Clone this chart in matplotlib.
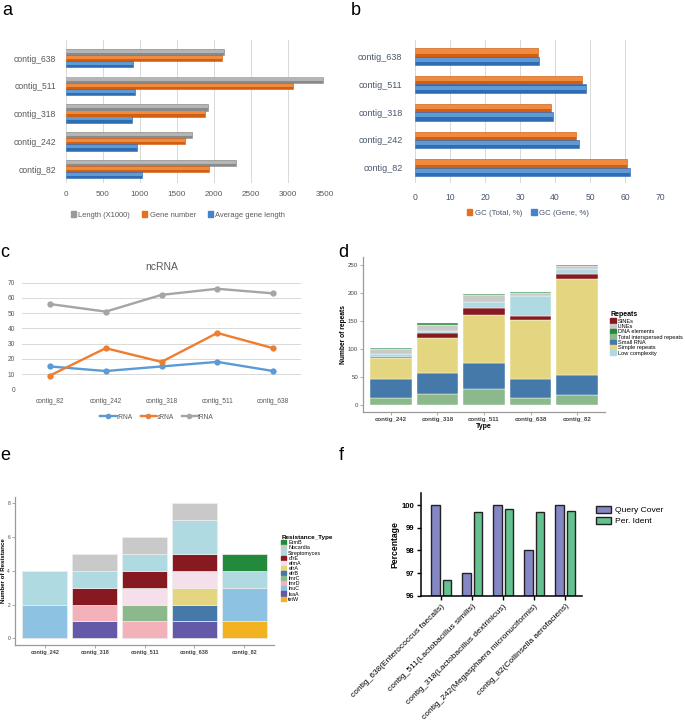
import numpy as np
import matplotlib.pyplot as plt
from matplotlib.patches import Patch
from matplotlib.lines import Line2D

plt.rcParams['font.family'] = ['Liberation Sans', 'DejaVu Sans']

# a / b : contig stats
contigs = ["contig_82", "contig_242", "contig_318", "contig_511", "contig_638"]
length_k = [2300, 1710, 1920, 3470, 2135]
gene_number = [1940, 1605, 1880, 3065, 2110]
avg_gene_len = [1030, 960, 900, 935, 905]
gc_total = [60.5, 46.0, 38.8, 47.7, 35.0]
gc_gene = [61.4, 46.8, 39.4, 48.9, 35.4]

# c : ncRNA
rrna = [15, 12, 15, 18, 12]
srna = [9, 27, 18, 37, 27]
trna = [56, 51, 62, 66, 63]

# d : repeats
rep_contigs = ["contig_242", "contig_318", "contig_511", "contig_638", "contig_82"]
rep_total_interspersed = [13, 20, 28, 13, 18]
rep_small_rna = [33, 37, 46, 34, 35]
rep_simple = [38, 63, 86, 105, 171]
rep_sines = [2, 8, 13, 6, 10]
rep_low_complexity = [5, 4, 10, 37, 9]
rep_lines = [8, 10, 13, 5, 4]
rep_dna = [3, 4, 2, 1, 3]

# e : resistance genes (rows follow res_types)
res_types = ["ErmB", "Nocardia", "Streptomyces", "dfrE", "efmA", "efrA",
             "efrB", "lmrC", "lmrD", "lnuC", "lsaA", "tetW"]
res_counts = [
    [0, 0, 0, 0, 1],
    [0, 1, 1, 1, 0],
    [2, 1, 1, 2, 1],
    [0, 1, 1, 1, 0],
    [0, 0, 1, 1, 0],
    [0, 0, 0, 1, 0],
    [0, 0, 0, 1, 0],
    [0, 0, 1, 0, 0],
    [0, 1, 1, 0, 0],
    [2, 0, 0, 0, 2],
    [0, 1, 0, 1, 0],
    [0, 0, 0, 0, 1],
]
res_colors = ["#238A3B", "#C9C9C9", "#B0DAE1", "#861A20", "#F4DFEA", "#E4D680",
              "#4479AA", "#8BB98B", "#F3B2BA", "#8EC2E3", "#6459A8", "#F2B222"]

# f : blast hits
f_labels = ["contig_638(Enterococcus faecalis)", "contig_511(Lactobacillus similis)",
            "contig_318(Lactobacillus dextrinicus)", "contig_242(Megasphaera micronuciformis)",
            "contig_82(Collinsella aerofaciens)"]
query_cover = [100, 97, 100, 98, 100]
per_ident = [96.68, 99.71, 99.82, 99.71, 99.76]

W, H = 685, 720
fig = plt.figure(figsize=(W / 100, H / 100), dpi=100)


def axes_px(x0, y0, x1, y1):
    return fig.add_axes([x0 / W, 1 - y1 / H, (x1 - x0) / W, (y1 - y0) / H])


def bar3d(ax, y, vals, h, dark, light):
    # excel-ish shaded bar: dark body + lighter upper half
    ax.barh(y, vals, height=h, color=dark, edgecolor=dark, lw=0.4, zorder=3)
    ax.barh(np.array(y) + h * 0.12, vals, height=h * 0.5, color=light, lw=0, zorder=4)


yy = np.arange(len(contigs))

# ---------- a ----------
ax = axes_px(65.7, 40, 325, 183)
h = 0.22
bar3d(ax, yy + 0.22, length_k, h, "#8A8A8A", "#B5B5B5")
bar3d(ax, yy, gene_number, h, "#D25F10", "#F08A3F")
bar3d(ax, yy - 0.22, avg_gene_len, h, "#2E6CB3", "#5D9AD6")
ax.set_xlim(0, 3500)
ax.set_ylim(-0.5, 4.65)
ax.set_xticks(range(0, 3501, 500))
ax.set_yticks(yy)
ax.set_yticklabels(contigs)
ax.grid(axis="x", color="#D9D9D9", lw=0.7, zorder=0)
for s in ax.spines.values():
    s.set_visible(False)
ax.tick_params(length=0, labelsize=6.2, labelcolor="#595959")
ax.tick_params(axis="y", pad=7)
ax.tick_params(axis="x", pad=6, labelsize=5.9)
fig.legend(handles=[Patch(color="#9A9A9A", label="Length (X1000)"),
                    Patch(color="#E46F1E", label="Gene number"),
                    Patch(color="#4583C8", label="Average gene length")],
           loc="center", bbox_to_anchor=(178 / W, 1 - 215 / H), ncol=3, frameon=False,
           fontsize=5.4, handlelength=0.7, handleheight=0.7, handletextpad=0.3,
           columnspacing=1.6, labelcolor="#595959")

# ---------- b ----------
ax = axes_px(415, 40, 660, 183)
h = 0.3
bar3d(ax, yy + 0.15, gc_total, h, "#D25F10", "#F08A3F")
bar3d(ax, yy - 0.15, gc_gene, h, "#2E6CB3", "#5D9AD6")
ax.set_xlim(0, 70)
ax.set_ylim(-0.55, 4.6)
ax.set_xticks(range(0, 71, 10))
ax.set_yticks(yy)
ax.set_yticklabels(contigs)
ax.grid(axis="x", color="#D9D9D9", lw=0.7, zorder=0)
for s in ax.spines.values():
    s.set_visible(False)
ax.tick_params(length=0, labelsize=6.5, labelcolor="#4A566E")
ax.tick_params(axis="y", pad=9)
ax.tick_params(axis="x", pad=7, labelsize=6.2)
fig.legend(handles=[Patch(color="#E46F1E", label="GC (Total, %)"),
                    Patch(color="#4583C8", label="GC (Gene, %)")],
           loc="center", bbox_to_anchor=(528 / W, 1 - 213 / H), ncol=2, frameon=False,
           fontsize=5.7, handlelength=0.7, handleheight=0.7, handletextpad=0.3,
           columnspacing=1.2, labelcolor="#4A566E")

# ---------- c ----------
ax = axes_px(22, 282.7, 301, 389.3)
x = np.arange(len(contigs))
ax.plot(x, rrna, color="#5B9BD5", lw=1.7, marker="o", ms=3.5, label="rRNA", zorder=3)
ax.plot(x, srna, color="#ED7D31", lw=1.7, marker="o", ms=3.5, label="sRNA", zorder=3)
ax.plot(x, trna, color="#A5A5A5", lw=1.7, marker="o", ms=3.5, label="tRNA", zorder=3)
ax.set_xlim(-0.5, 4.5)
ax.set_ylim(0, 70)
ax.set_yticks(range(0, 71, 10))
ax.set_xticks(x)
ax.set_xticklabels(contigs)
ax.grid(axis="y", color="#D9D9D9", lw=0.7, zorder=0)
for s in ax.spines.values():
    s.set_visible(False)
ax.tick_params(length=0, labelsize=4.8, labelcolor="#595959")
ax.tick_params(axis="x", pad=6)
ax.tick_params(axis="y", pad=5)
ax.set_title("ncRNA", fontsize=7.5, color="#595959", pad=9)
fig.legend(handles=[Line2D([], [], color=c, lw=1.7, marker="o", ms=3, label=l)
                    for c, l in [("#5B9BD5", "rRNA"), ("#ED7D31", "sRNA"), ("#A5A5A5", "tRNA")]],
           loc="center", bbox_to_anchor=(157 / W, 1 - 417 / H), ncol=3, frameon=False,
           fontsize=4.8, handlelength=2.3, handletextpad=0.1, columnspacing=1.2,
           labelcolor="#595959")

# ---------- d ----------
ax = axes_px(363, 257, 605, 412)
xd = np.arange(len(rep_contigs))
stack = [("Total interspersed repeats", rep_total_interspersed, "#8BB98B"),
         ("Small RNA", rep_small_rna, "#4479AA"),
         ("Simple repeats", rep_simple, "#E4D680"),
         ("SINEs", rep_sines, "#861A20"),
         ("Low complexity", rep_low_complexity, "#B0DAE1"),
         ("LINEs", rep_lines, "#C9C9C9"),
         ("DNA elements", rep_dna, "#238A3B")]
bottom = np.zeros(len(xd))
handles = {}
for name, vals, col in stack:
    b = ax.bar(xd, vals, bottom=bottom, width=0.9, color=col, edgecolor="white", lw=0.3)
    handles[name] = Patch(color=col, label=name)
    bottom += np.array(vals)
ax.set_xlim(-0.6, 4.6)
ax.set_ylim(-12.55, 263.6)
ax.set_yticks(range(0, 251, 50))
ax.set_xticks(xd)
ax.set_xticklabels(rep_contigs, fontweight="bold")
for s in ["top", "right"]:
    ax.spines[s].set_visible(False)
for s in ["left", "bottom"]:
    ax.spines[s].set_color("#9A9A9A")
    ax.spines[s].set_linewidth(0.9)
ax.tick_params(labelsize=4.4, colors="#9A9A9A", labelcolor="#444444", length=2, width=0.6, pad=1.5)
ax.set_xlabel("Type", fontsize=5, fontweight="bold", labelpad=0.5)
ax.set_ylabel("Number of repeats", fontsize=4.8, fontweight="bold", labelpad=1)
order = ["SINEs", "LINEs", "DNA elements", "Total interspersed repeats",
         "Small RNA", "Simple repeats", "Low complexity"]
leg = fig.legend(handles=[handles[n] for n in order], loc="upper left",
                 bbox_to_anchor=(607 / W, 1 - 308 / H), frameon=False, fontsize=4.1,
                 title="Repeats", title_fontproperties={"weight": "bold", "size": 5},
                 handlelength=0.9, handleheight=0.9, labelspacing=0.0, handletextpad=0.4,
                 borderpad=0.1)
leg._legend_box.align = "left"

# ---------- e ----------
ax = axes_px(15, 496.7, 274, 645)
xe = np.arange(len(rep_contigs))
bottom = np.zeros(len(xe))
for name, vals, col in reversed(list(zip(res_types, res_counts, res_colors))):
    ax.bar(xe, vals, bottom=bottom, width=0.9, color=col, edgecolor="#EDEDED", lw=0.5)
    bottom += np.array(vals)
ax.set_xlim(-0.6, 4.6)
ax.set_ylim(-0.4, 8.4)
ax.set_yticks(range(0, 9, 2))
ax.set_xticks(xe)
ax.set_xticklabels(rep_contigs, fontweight="bold")
for s in ["top", "right"]:
    ax.spines[s].set_visible(False)
for s in ["left", "bottom"]:
    ax.spines[s].set_color("#9A9A9A")
    ax.spines[s].set_linewidth(0.9)
ax.tick_params(labelsize=4.0, colors="#9A9A9A", labelcolor="#444444", length=2, width=0.6, pad=1.5)
ax.tick_params(axis="y", labelsize=3.5)
ax.set_ylabel("Number of Resistance", fontsize=4.4, fontweight="bold", labelpad=1)
leg = fig.legend(handles=[Patch(color=c, label=n) for n, c in zip(res_types, res_colors)],
                 loc="upper left", bbox_to_anchor=(278 / W, 1 - 532 / H), frameon=False,
                 fontsize=3.9, title="Resistance_Type",
                 title_fontproperties={"weight": "bold", "size": 4.6},
                 handlelength=0.9, handleheight=0.9, labelspacing=0.0, handletextpad=0.4,
                 borderpad=0.1)
leg._legend_box.align = "left"

# ---------- f ----------
ax = axes_px(421, 492.7, 582, 595.7)
xf = np.arange(len(f_labels))
ax.bar(xf - 0.185, np.array(query_cover) - 96, bottom=96, width=0.28,
       color="#8587C4", edgecolor="#222222", lw=1.0, label="Query Cover")
ax.bar(xf + 0.185, np.array(per_ident) - 96, bottom=96, width=0.28,
       color="#66C191", edgecolor="#222222", lw=1.0, label="Per. Ident")
ax.set_xlim(-0.65, 4.54)
ax.set_ylim(96, 100.55)
ax.set_yticks(range(96, 101))
ax.set_xticks(xf)
ax.set_xticklabels(f_labels, rotation=45, ha="right", va="top", rotation_mode="anchor")
for s in ["top", "right"]:
    ax.spines[s].set_visible(False)
for s in ["left", "bottom"]:
    ax.spines[s].set_linewidth(1.1)
ax.tick_params(axis="x", labelsize=6.0, length=3, width=1.0, pad=2)
ax.tick_params(axis="y", labelsize=5.6, length=3, width=1.0, pad=1.5)
for t in ax.get_yticklabels():
    t.set_fontweight("bold")
ax.set_ylabel("Percentage", fontsize=6.2, fontweight="bold", labelpad=2)
fig.legend(handles=[Patch(facecolor="#8587C4", edgecolor="#222222", lw=1.0, label="Query Cover"),
                    Patch(facecolor="#66C191", edgecolor="#222222", lw=1.0, label="Per. Ident")],
           loc="upper left", bbox_to_anchor=(588 / W, 1 - 498 / H), frameon=False,
           fontsize=6.1, handlelength=1.8, handleheight=0.9, labelspacing=0.35,
           handletextpad=0.5)

# panel letters
for lab, px_x, px_y in [("a", 2, 15), ("b", 351, 15), ("c", 0, 257),
                        ("d", 338, 257), ("e", 0, 460), ("f", 339, 460)]:
    fig.text(px_x / W, 1 - px_y / H, lab, fontsize=13, va="baseline", ha="left")

fig.savefig("out.png", dpi=100)
